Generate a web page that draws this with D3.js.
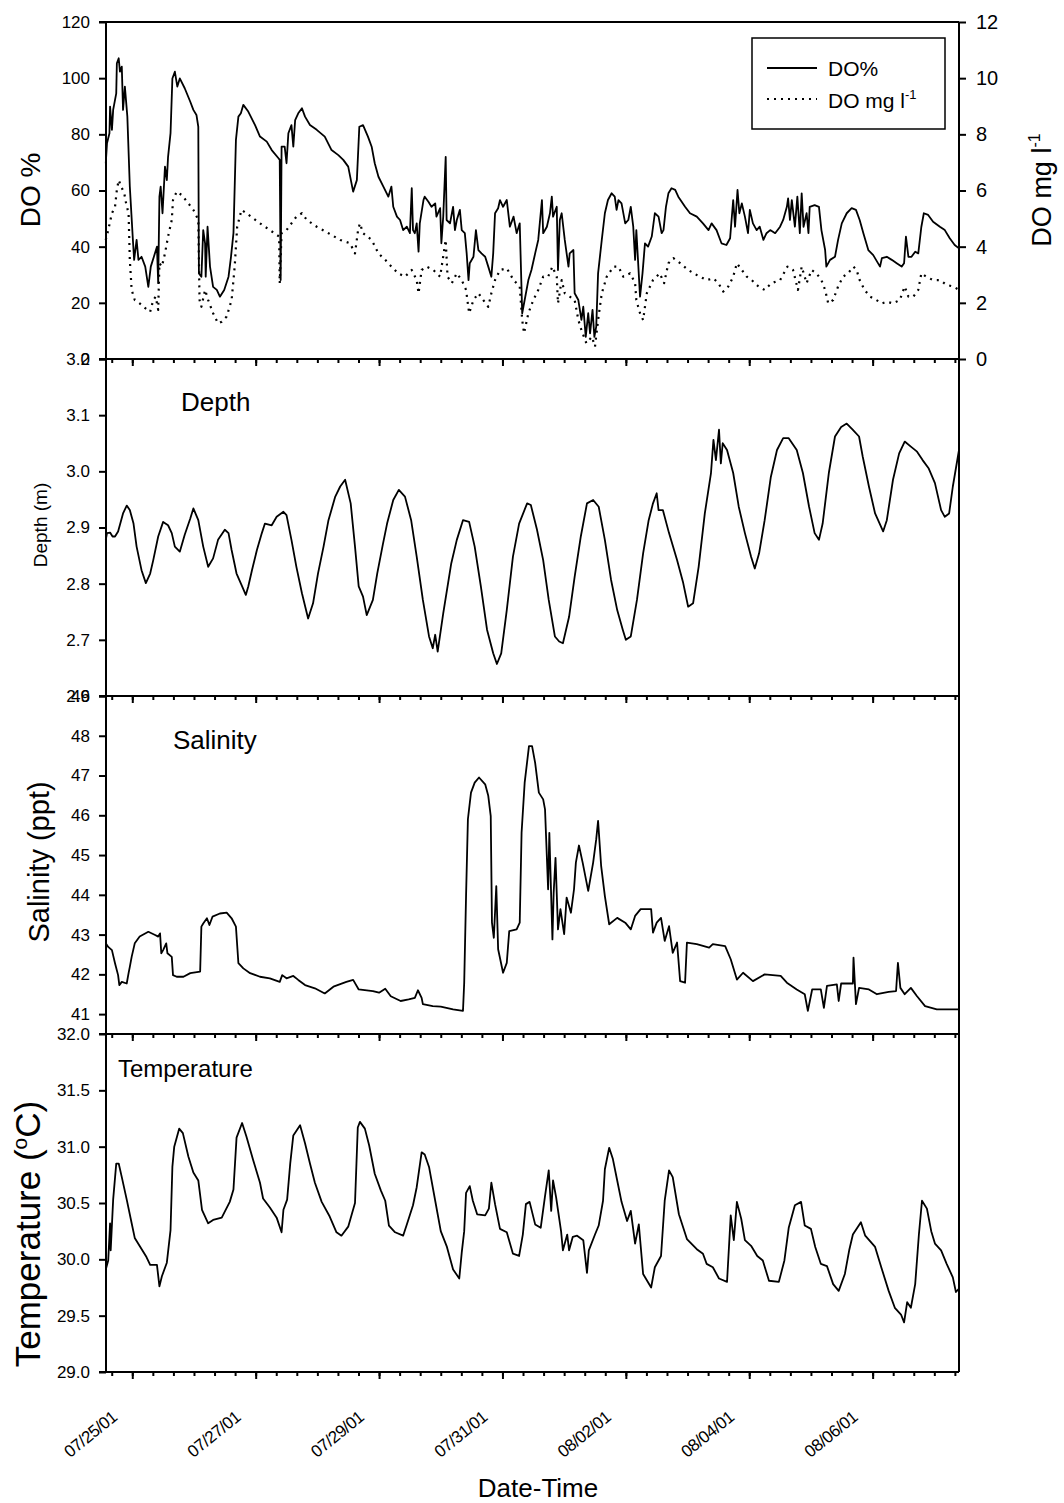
<!DOCTYPE html>
<html>
<head>
<meta charset="utf-8">
<script src="https://cdn.jsdelivr.net/npm/d3@7"></script>
<style>
	body { margin: 0; background: #fff; }
	svg { font-family: Arial, "Liberation Sans", sans-serif; }
</style>
</head>
<body>
<div id="chart"></div>
<script>
// time is in days after 07/25/01 00:00
var doPct = [[-0.43,69.7],[-0.41,76.8],[-0.37,80.4],[-0.36,89.9],[-0.33,81.6],[-0.31,88.7],[-0.26,94.6],[-0.25,105.3],[-0.22,107.1],[-0.20,102.3],[-0.17,104.1],[-0.15,88.7],[-0.12,97.0],[-0.08,86.3],[-0.04,61.4],[0.01,42.4],[0.03,35.3],[0.07,42.4],[0.10,35.3],[0.15,36.4],[0.21,32.9],[0.26,25.7],[0.30,32.9],[0.35,36.4],[0.40,40.0],[0.42,27.0],[0.44,57.8],[0.46,61.4],[0.49,51.9],[0.53,68.5],[0.56,63.7],[0.58,72.0],[0.62,80.4],[0.65,99.9],[0.69,102.3],[0.73,97.0],[0.77,99.9],[0.85,96.4],[0.94,91.6],[0.99,88.7],[1.04,86.9],[1.07,82.7],[1.08,30.5],[1.12,29.3],[1.15,45.9],[1.18,41.2],[1.19,29.3],[1.22,47.1],[1.26,32.9],[1.31,25.7],[1.37,24.6],[1.42,22.2],[1.49,24.6],[1.56,29.3],[1.60,36.4],[1.64,44.8],[1.68,78.0],[1.72,86.3],[1.76,87.5],[1.80,90.5],[1.88,88.1],[1.99,83.3],[2.07,79.2],[2.18,77.4],[2.26,74.4],[2.37,71.5],[2.39,70.9],[2.405,28.1],[2.42,75.6],[2.47,75.6],[2.50,69.7],[2.53,80.4],[2.58,83.3],[2.61,75.6],[2.64,85.1],[2.69,87.5],[2.75,89.3],[2.80,86.3],[2.88,83.3],[2.99,81.6],[3.12,79.2],[3.23,74.4],[3.34,72.6],[3.42,70.9],[3.50,68.5],[3.58,59.6],[3.64,63.7],[3.68,82.7],[3.74,83.3],[3.82,79.2],[3.88,75.6],[3.93,69.7],[3.99,64.9],[4.07,61.4],[4.15,57.8],[4.20,61.4],[4.23,54.2],[4.29,50.7],[4.34,49.5],[4.39,45.9],[4.45,47.1],[4.50,44.8],[4.53,60.8],[4.55,45.9],[4.58,44.8],[4.61,48.3],[4.64,38.2],[4.66,48.3],[4.72,56.6],[4.74,57.8],[4.80,56.0],[4.85,54.2],[4.91,55.4],[4.93,50.7],[4.99,53.7],[5.01,41.2],[5.04,50.7],[5.08,72.0],[5.095,49.5],[5.15,48.3],[5.20,54.2],[5.23,45.9],[5.26,49.5],[5.31,53.1],[5.34,45.9],[5.39,44.8],[5.42,37.6],[5.45,28.1],[5.47,34.1],[5.53,36.4],[5.57,45.9],[5.61,38.8],[5.66,37.6],[5.72,36.4],[5.77,32.9],[5.82,29.3],[5.85,37.6],[5.88,51.9],[5.93,53.7],[5.96,56.6],[6.01,54.2],[6.07,56.6],[6.12,47.1],[6.18,50.7],[6.23,44.8],[6.28,48.3],[6.32,16.3],[6.36,21.0],[6.42,28.1],[6.47,31.7],[6.53,37.6],[6.58,42.4],[6.64,56.6],[6.66,44.8],[6.72,47.1],[6.77,51.9],[6.80,57.8],[6.82,50.7],[6.88,54.2],[6.90,31.7],[6.93,49.5],[6.96,51.9],[7.01,42.4],[7.07,32.9],[7.09,37.6],[7.15,38.8],[7.17,23.4],[7.23,21.0],[7.28,13.9],[7.31,18.6],[7.35,7.9],[7.39,16.3],[7.42,9.1],[7.46,17.5],[7.49,7.9],[7.52,11.5],[7.55,30.5],[7.61,42.4],[7.66,51.9],[7.71,56.6],[7.77,59.0],[7.82,57.8],[7.85,53.1],[7.88,56.6],[7.93,55.4],[7.99,48.3],[8.04,49.5],[8.08,54.2],[8.12,47.1],[8.15,35.3],[8.17,45.9],[8.23,22.2],[8.27,30.5],[8.31,41.2],[8.36,40.0],[8.42,43.6],[8.47,51.9],[8.53,50.7],[8.58,44.8],[8.61,45.9],[8.65,54.2],[8.69,59.0],[8.74,60.8],[8.80,60.2],[8.85,57.8],[8.96,54.2],[9.04,51.9],[9.15,50.7],[9.25,48.3],[9.34,45.9],[9.39,48.3],[9.47,45.9],[9.55,41.2],[9.63,40.6],[9.69,43.0],[9.74,56.6],[9.77,47.1],[9.81,60.2],[9.84,51.9],[9.88,55.4],[9.93,50.7],[9.98,44.8],[10.01,53.1],[10.06,48.3],[10.12,45.9],[10.17,47.1],[10.23,42.4],[10.28,44.8],[10.34,45.9],[10.42,44.8],[10.50,47.1],[10.55,49.5],[10.61,54.2],[10.63,57.2],[10.66,49.5],[10.69,56.6],[10.74,47.1],[10.78,57.8],[10.82,44.8],[10.85,59.0],[10.88,47.1],[10.93,51.9],[10.96,44.8],[10.98,54.2],[11.06,54.8],[11.13,54.2],[11.17,45.9],[11.23,38.8],[11.25,32.9],[11.31,35.3],[11.39,36.4],[11.44,42.4],[11.50,48.3],[11.58,51.9],[11.66,53.7],[11.73,53.1],[11.79,49.5],[11.85,44.8],[11.93,38.8],[12.01,37.0],[12.12,32.9],[12.15,35.9],[12.23,36.4],[12.31,35.3],[12.39,34.1],[12.47,32.9],[12.51,34.1],[12.54,43.6],[12.58,36.4],[12.63,36.4],[12.69,38.2],[12.74,37.6],[12.79,47.1],[12.83,51.9],[12.90,51.3],[12.98,48.9],[13.09,47.1],[13.17,45.9],[13.25,43.0],[13.33,40.6],[13.40,39.4]];

var doMg = [[-0.43,4.24],[-0.39,4.59],[-0.33,5.19],[-0.28,5.42],[-0.25,6.02],[-0.22,6.37],[-0.18,6.14],[-0.13,5.90],[-0.10,5.54],[-0.06,5.19],[-0.04,3.53],[-0.01,2.46],[0.04,2.10],[0.12,1.98],[0.21,1.81],[0.29,1.68],[0.34,2.10],[0.38,2.22],[0.42,1.75],[0.44,3.41],[0.48,3.29],[0.53,3.76],[0.58,4.36],[0.64,4.95],[0.66,5.66],[0.72,5.96],[0.80,5.84],[0.91,5.54],[0.99,5.31],[1.07,4.95],[1.09,2.10],[1.12,1.86],[1.18,2.46],[1.23,2.10],[1.31,1.63],[1.39,1.27],[1.45,1.33],[1.53,1.51],[1.61,2.10],[1.66,3.29],[1.70,4.71],[1.77,5.31],[1.85,5.19],[2.07,4.83],[2.23,4.59],[2.38,4.36],[2.39,2.70],[2.42,4.48],[2.50,4.59],[2.58,4.83],[2.66,5.07],[2.75,5.19],[2.83,4.95],[2.99,4.71],[3.18,4.48],[3.37,4.24],[3.53,4.12],[3.61,3.76],[3.66,4.59],[3.69,4.83],[3.74,4.48],[3.88,4.24],[3.99,3.76],[4.10,3.53],[4.20,3.29],[4.31,3.05],[4.42,2.93],[4.53,3.17],[4.61,2.81],[4.64,2.34],[4.69,3.17],[4.77,3.29],[4.88,3.17],[4.99,2.93],[5.08,4.24],[5.11,2.93],[5.18,2.70],[5.26,3.05],[5.34,2.81],[5.41,2.46],[5.46,1.63],[5.53,2.10],[5.61,2.34],[5.69,2.10],[5.77,1.86],[5.82,2.34],[5.88,2.81],[5.96,3.17],[6.07,3.23],[6.18,2.81],[6.28,2.58],[6.32,1.39],[6.35,0.92],[6.42,1.63],[6.50,2.10],[6.58,2.46],[6.66,2.93],[6.74,2.93],[6.81,3.29],[6.88,2.93],[6.90,1.98],[6.96,2.81],[7.01,2.34],[7.09,2.22],[7.17,2.10],[7.23,1.39],[7.28,1.03],[7.36,0.56],[7.45,0.79],[7.50,0.44],[7.55,1.39],[7.61,2.34],[7.69,2.93],[7.80,3.29],[7.88,3.29],[7.96,2.93],[8.07,3.05],[8.15,2.70],[8.17,2.10],[8.23,1.63],[8.28,1.39],[8.34,2.34],[8.44,2.81],[8.55,3.05],[8.62,2.70],[8.69,3.41],[8.77,3.59],[8.88,3.41],[9.01,3.17],[9.15,2.99],[9.31,2.81],[9.42,2.87],[9.50,2.70],[9.58,2.40],[9.66,2.58],[9.74,2.93],[9.80,3.41],[9.88,3.17],[9.96,2.93],[10.04,2.81],[10.15,2.58],[10.25,2.46],[10.36,2.70],[10.50,2.81],[10.62,3.29],[10.71,3.17],[10.79,2.46],[10.85,3.29],[10.93,2.70],[11.01,3.17],[11.09,3.05],[11.17,2.81],[11.23,2.46],[11.28,1.98],[11.36,2.10],[11.44,2.58],[11.52,2.93],[11.60,3.05],[11.69,3.29],[11.74,3.17],[11.79,2.81],[11.87,2.46],[11.96,2.22],[12.06,2.10],[12.15,1.98],[12.23,2.04],[12.33,1.98],[12.44,2.10],[12.52,2.58],[12.58,2.22],[12.66,2.22],[12.74,2.46],[12.79,3.05],[12.87,2.93],[12.98,2.81],[13.09,2.81],[13.20,2.64],[13.31,2.58],[13.40,2.46]];

var depth = [[-0.43,2.878],[-0.41,2.890],[-0.36,2.891],[-0.32,2.884],[-0.28,2.884],[-0.23,2.893],[-0.15,2.925],[-0.09,2.939],[-0.04,2.931],[0.02,2.907],[0.07,2.866],[0.15,2.824],[0.22,2.801],[0.29,2.818],[0.34,2.842],[0.42,2.884],[0.50,2.910],[0.58,2.904],[0.64,2.890],[0.69,2.866],[0.77,2.857],[0.85,2.887],[0.94,2.916],[0.99,2.934],[1.07,2.913],[1.15,2.866],[1.23,2.830],[1.31,2.845],[1.39,2.878],[1.50,2.896],[1.56,2.890],[1.61,2.860],[1.69,2.818],[1.77,2.798],[1.84,2.780],[1.88,2.795],[1.94,2.824],[2.02,2.860],[2.10,2.890],[2.15,2.907],[2.26,2.904],[2.34,2.919],[2.45,2.928],[2.50,2.922],[2.58,2.878],[2.66,2.830],[2.75,2.783],[2.85,2.738],[2.93,2.765],[3.01,2.818],[3.10,2.866],[3.18,2.913],[3.29,2.955],[3.37,2.973],[3.45,2.985],[3.54,2.943],[3.61,2.866],[3.67,2.795],[3.74,2.777],[3.80,2.744],[3.90,2.771],[3.97,2.818],[4.06,2.869],[4.13,2.907],[4.23,2.949],[4.32,2.967],[4.42,2.955],[4.52,2.913],[4.61,2.848],[4.71,2.771],[4.81,2.706],[4.87,2.685],[4.91,2.709],[4.95,2.679],[5.04,2.747],[5.17,2.836],[5.26,2.878],[5.36,2.913],[5.46,2.910],[5.55,2.866],[5.65,2.795],[5.75,2.718],[5.85,2.676],[5.91,2.657],[5.98,2.676],[6.07,2.753],[6.17,2.848],[6.27,2.907],[6.40,2.943],[6.46,2.940],[6.56,2.896],[6.66,2.842],[6.75,2.771],[6.85,2.706],[6.92,2.697],[6.98,2.694],[7.08,2.741],[7.17,2.812],[7.27,2.884],[7.37,2.943],[7.47,2.949],[7.56,2.937],[7.66,2.878],[7.76,2.807],[7.86,2.753],[7.95,2.718],[8.00,2.700],[8.08,2.706],[8.18,2.771],[8.28,2.854],[8.37,2.913],[8.44,2.943],[8.50,2.961],[8.53,2.931],[8.60,2.931],[8.70,2.890],[8.83,2.842],[8.93,2.801],[9.01,2.759],[9.09,2.765],[9.18,2.830],[9.28,2.925],[9.38,2.997],[9.42,3.056],[9.46,3.020],[9.51,3.074],[9.54,3.014],[9.57,3.050],[9.64,3.038],[9.74,2.997],[9.83,2.937],[9.93,2.890],[10.03,2.848],[10.09,2.827],[10.16,2.854],[10.25,2.913],[10.35,2.990],[10.45,3.038],[10.55,3.059],[10.64,3.059],[10.77,3.038],[10.87,2.997],[10.97,2.937],[11.06,2.890],[11.13,2.878],[11.19,2.907],[11.29,2.997],[11.39,3.062],[11.49,3.079],[11.58,3.085],[11.68,3.074],[11.78,3.062],[11.84,3.026],[11.94,2.973],[12.04,2.925],[12.17,2.893],[12.23,2.913],[12.33,2.985],[12.43,3.032],[12.52,3.053],[12.62,3.044],[12.72,3.035],[12.81,3.020],[12.91,3.005],[13.01,2.979],[13.11,2.931],[13.17,2.919],[13.24,2.925],[13.30,2.973],[13.40,3.038]];

var salinity = [[-0.43,42.78],[-0.39,42.69],[-0.33,42.61],[-0.28,42.28],[-0.23,41.98],[-0.21,41.73],[-0.17,41.81],[-0.09,41.77],[-0.06,42.03],[-0.04,42.19],[-0.01,42.44],[0.04,42.78],[0.12,42.95],[0.26,43.07],[0.37,42.99],[0.42,42.95],[0.45,43.03],[0.47,42.53],[0.50,42.61],[0.55,42.78],[0.57,42.53],[0.64,42.44],[0.66,41.98],[0.72,41.94],[0.83,41.94],[0.94,42.03],[1.10,42.07],[1.12,43.20],[1.15,43.28],[1.21,43.41],[1.25,43.24],[1.30,43.45],[1.42,43.53],[1.53,43.55],[1.61,43.41],[1.68,43.20],[1.72,42.28],[1.80,42.15],[1.91,42.03],[2.07,41.94],[2.23,41.90],[2.39,41.81],[2.43,41.98],[2.50,41.90],[2.61,41.96],[2.69,41.86],[2.80,41.73],[2.96,41.65],[3.12,41.52],[3.26,41.69],[3.47,41.81],[3.58,41.86],[3.67,41.62],[3.90,41.58],[4.00,41.54],[4.10,41.64],[4.19,41.45],[4.35,41.33],[4.48,41.37],[4.58,41.41],[4.63,41.60],[4.69,41.41],[4.71,41.25],[4.87,41.20],[5.00,41.19],[5.20,41.12],[5.36,41.08],[5.38,41.79],[5.41,43.97],[5.44,45.90],[5.49,46.57],[5.55,46.82],[5.62,46.95],[5.72,46.78],[5.77,46.49],[5.81,45.98],[5.83,43.30],[5.86,42.92],[5.90,44.22],[5.93,42.63],[6.01,42.04],[6.07,42.29],[6.11,43.09],[6.23,43.13],[6.28,43.30],[6.31,45.56],[6.36,46.82],[6.43,47.74],[6.48,47.74],[6.53,47.32],[6.59,46.57],[6.66,46.40],[6.69,46.15],[6.74,44.14],[6.76,45.56],[6.81,42.88],[6.83,44.05],[6.86,44.93],[6.90,43.13],[6.94,43.64],[7.00,43.01],[7.04,43.93],[7.11,43.55],[7.16,44.14],[7.19,44.81],[7.24,45.24],[7.30,44.81],[7.39,44.10],[7.47,44.81],[7.52,45.40],[7.55,45.86],[7.60,44.72],[7.66,43.97],[7.73,43.26],[7.86,43.42],[7.99,43.30],[8.08,43.13],[8.15,43.47],[8.24,43.64],[8.41,43.64],[8.44,43.05],[8.50,43.30],[8.57,43.42],[8.63,42.84],[8.70,43.21],[8.76,42.54],[8.83,42.80],[8.88,41.83],[8.96,41.79],[8.99,42.80],[9.15,42.76],[9.35,42.67],[9.41,42.76],[9.61,42.71],[9.70,42.38],[9.80,41.87],[9.90,42.04],[10.06,41.83],[10.25,42.00],[10.51,41.96],[10.61,41.79],[10.77,41.62],[10.90,41.50],[10.95,41.08],[11.02,41.62],[11.16,41.62],[11.21,41.16],[11.26,41.71],[11.42,41.75],[11.45,41.33],[11.49,41.77],[11.68,41.77],[11.69,42.42],[11.73,41.25],[11.78,41.66],[11.94,41.62],[12.07,41.50],[12.26,41.56],[12.38,41.58],[12.41,42.29],[12.45,41.66],[12.52,41.50],[12.62,41.66],[12.72,41.45],[12.85,41.20],[13.04,41.12],[13.27,41.12],[13.40,41.12]];

var temperature = [[-0.43,29.91],[-0.39,29.99],[-0.36,30.32],[-0.35,30.08],[-0.31,30.53],[-0.26,30.85],[-0.22,30.85],[-0.17,30.73],[-0.09,30.53],[-0.01,30.32],[0.04,30.19],[0.13,30.11],[0.23,30.02],[0.29,29.95],[0.40,29.95],[0.44,29.76],[0.48,29.85],[0.56,29.97],[0.62,30.26],[0.65,30.82],[0.68,31.00],[0.76,31.16],[0.82,31.12],[0.91,30.91],[0.99,30.77],[1.07,30.70],[1.13,30.44],[1.23,30.32],[1.31,30.35],[1.45,30.37],[1.58,30.51],[1.64,30.62],[1.69,31.08],[1.78,31.21],[1.85,31.09],[1.96,30.88],[2.07,30.68],[2.12,30.54],[2.23,30.46],[2.34,30.37],[2.42,30.24],[2.45,30.44],[2.51,30.53],[2.56,30.85],[2.61,31.10],[2.72,31.19],[2.80,31.03],[2.88,30.85],[2.96,30.68],[3.07,30.51],[3.20,30.38],[3.31,30.24],[3.39,30.21],[3.50,30.29],[3.61,30.50],[3.655,31.17],[3.69,31.22],[3.77,31.16],[3.84,31.01],[3.93,30.76],[4.03,30.61],[4.10,30.52],[4.16,30.30],[4.26,30.24],[4.39,30.21],[4.45,30.31],[4.55,30.48],[4.61,30.64],[4.69,30.95],[4.74,30.93],[4.81,30.82],[4.91,30.52],[5.00,30.25],[5.10,30.11],[5.20,29.91],[5.30,29.83],[5.34,30.06],[5.38,30.25],[5.41,30.59],[5.47,30.65],[5.52,30.52],[5.59,30.40],[5.72,30.39],[5.78,30.45],[5.82,30.68],[5.88,30.49],[5.96,30.27],[6.07,30.24],[6.17,30.05],[6.27,30.03],[6.33,30.22],[6.38,30.49],[6.44,30.51],[6.53,30.31],[6.62,30.28],[6.69,30.56],[6.75,30.79],[6.79,30.43],[6.82,30.70],[6.87,30.55],[6.95,30.25],[6.98,30.08],[7.05,30.22],[7.08,30.08],[7.14,30.20],[7.21,30.21],[7.31,30.17],[7.37,29.88],[7.40,30.08],[7.50,30.22],[7.56,30.30],[7.63,30.52],[7.66,30.80],[7.73,30.99],[7.79,30.89],[7.86,30.70],[7.93,30.51],[8.02,30.34],[8.08,30.43],[8.15,30.14],[8.21,30.31],[8.28,29.87],[8.41,29.75],[8.47,29.93],[8.57,30.03],[8.63,30.52],[8.70,30.79],[8.76,30.73],[8.86,30.40],[8.99,30.18],[9.15,30.09],[9.25,30.05],[9.31,29.96],[9.41,29.93],[9.51,29.83],[9.64,29.80],[9.70,30.39],[9.75,30.17],[9.80,30.51],[9.87,30.36],[9.93,30.17],[10.03,30.12],[10.13,30.03],[10.22,29.99],[10.32,29.81],[10.48,29.80],[10.57,29.99],[10.64,30.28],[10.74,30.48],[10.84,30.51],[10.90,30.30],[11.00,30.27],[11.07,30.11],[11.16,29.96],[11.26,29.94],[11.36,29.78],[11.45,29.72],[11.55,29.87],[11.62,30.08],[11.68,30.22],[11.81,30.33],[11.88,30.21],[12.04,30.11],[12.14,29.93],[12.26,29.72],[12.36,29.57],[12.46,29.51],[12.51,29.44],[12.56,29.62],[12.62,29.57],[12.69,29.78],[12.75,30.22],[12.80,30.52],[12.88,30.45],[12.95,30.25],[13.01,30.14],[13.11,30.08],[13.20,29.96],[13.30,29.84],[13.35,29.71],[13.40,29.74]];

var dateTicks = [0, 2, 4, 6, 8, 10, 12];
var doPctTicks = [0, 20, 40, 60, 80, 100, 120];
var doMgTicks = [0, 2, 4, 6, 8, 10, 12];
var depthTicks = [2.6, 2.7, 2.8, 2.9, 3.0, 3.1, 3.2];
var salinityTicks = [41, 42, 43, 44, 45, 46, 47, 48, 49];
var tempTicks = [29.0, 29.5, 30.0, 30.5, 31.0, 31.5, 32.0];

var width = 1064,
	height = 1503;
var left = 106,
	right = 959;
var font = "Arial, 'Liberation Sans', sans-serif";

var t0 = new Date(2001, 6, 25);
function day(d) {
	return new Date(t0.getTime() + d * 864e5);
}

var x = d3.scaleTime()
	.domain([day(-0.426), day(13.40)])
	.range([left, right]);

var panels = [
	{top: 22, bottom: 359, domain: [0, 120], ticks: doPctTicks, fmt: d3.format("d")},
	{top: 359, bottom: 696, domain: [2.6, 3.2], ticks: depthTicks, fmt: d3.format(".1f")},
	{top: 696, bottom: 1034, domain: [40.5, 49], ticks: salinityTicks, fmt: d3.format("d")},
	{top: 1034, bottom: 1372, domain: [29, 32], ticks: tempTicks, fmt: d3.format(".1f")}
];
panels.forEach(p => {
	p.y = d3.scaleLinear().domain(p.domain).range([p.bottom, p.top]);
});

var yMg = d3.scaleLinear().domain([0, 12]).range([panels[0].bottom, panels[0].top]);

var svg = d3.select("#chart").append("svg")
	.attr("width", width)
	.attr("height", height);

var majorTicks = dateTicks.map(day);
var minorTicks = d3.timeHour.every(8).range(x.domain()[0], x.domain()[1]);

panels.forEach(p => {
	// left axis
	svg.append("g")
		.attr("transform", `translate(${left},0)`)
		.call(d3.axisLeft(p.y).tickValues(p.ticks).tickFormat(p.fmt).tickSize(7).tickPadding(9))
		.call(g => g.select(".domain").remove())
		.call(g => g.selectAll("line").attr("stroke-width", 2))
		.call(g => g.selectAll("text").attr("font-size", 17).attr("font-family", font).attr("fill", "#000"));

	// time ticks along the bottom of every panel
	svg.append("g")
		.attr("transform", `translate(0,${p.bottom})`)
		.call(d3.axisBottom(x).tickValues(minorTicks).tickFormat("").tickSize(4))
		.call(g => g.select(".domain").remove())
		.call(g => g.selectAll("line").attr("stroke-width", 2));
	svg.append("g")
		.attr("transform", `translate(0,${p.bottom})`)
		.call(d3.axisBottom(x).tickValues(majorTicks).tickFormat("").tickSize(7))
		.call(g => g.select(".domain").remove())
		.call(g => g.selectAll("line").attr("stroke-width", 2));

	svg.append("line")
		.attr("x1", left - 7).attr("x2", right)
		.attr("y1", p.bottom).attr("y2", p.bottom)
		.attr("stroke", "#000").attr("stroke-width", 2);
});

// right axis for DO mg/l
svg.append("g")
	.attr("transform", `translate(${right},0)`)
	.call(d3.axisRight(yMg).tickValues(doMgTicks).tickSize(7).tickPadding(10))
	.call(g => g.select(".domain").remove())
	.call(g => g.selectAll("line").attr("stroke-width", 2))
	.call(g => g.selectAll("text").attr("font-size", 20).attr("font-family", font).attr("fill", "#000"));

// frame
svg.append("line").attr("x1", left - 7).attr("x2", right).attr("y1", 22).attr("y2", 22)
	.attr("stroke", "#000").attr("stroke-width", 2);
svg.append("line").attr("x1", left).attr("x2", left).attr("y1", 22).attr("y2", 1372)
	.attr("stroke", "#000").attr("stroke-width", 2);
svg.append("line").attr("x1", right).attr("x2", right).attr("y1", 22).attr("y2", 1372)
	.attr("stroke", "#000").attr("stroke-width", 2);

// series
function drawLine(data, y, dash) {
	svg.append("path")
		.datum(data)
		.attr("fill", "none")
		.attr("stroke", "#000")
		.attr("stroke-width", dash ? 2.2 : 1.8)
		.attr("stroke-dasharray", dash || null)
		.attr("stroke-linejoin", "round")
		.attr("d", d3.line().x(d => x(day(d[0]))).y(d => y(d[1])));
}
drawLine(doMg, yMg, "2,5");
drawLine(doPct, panels[0].y);
drawLine(depth, panels[1].y);
drawLine(salinity, panels[2].y);
drawLine(temperature, panels[3].y);

// date labels
svg.append("g")
	.selectAll("text")
	.data(majorTicks)
	.join("text")
	.attr("transform", d => `translate(${x(d) - 14},1419) rotate(-39)`)
	.attr("text-anchor", "end")
	.attr("font-size", 17)
	.attr("letter-spacing", -0.5)
	.text(d3.timeFormat("%m/%d/%y"));

svg.append("text")
	.attr("x", 538)
	.attr("y", 1497)
	.attr("text-anchor", "middle")
	.attr("font-size", 26)
	.text("Date-Time");

// y titles
function yTitle(xc, yc, size) {
	return svg.append("text")
		.attr("transform", `translate(${xc},${yc}) rotate(-90)`)
		.attr("text-anchor", "middle")
		.attr("dy", "0.36em")
		.attr("font-size", size);
}
yTitle(30, 190, 28).text("DO %");
var mgTitle = yTitle(1041, 190, 27);
mgTitle.append("tspan").text("DO mg l");
mgTitle.append("tspan").attr("font-size", 16).attr("dy", -11).text("-1");
yTitle(40, 525, 19).text("Depth (m)");
yTitle(39, 862, 29).text("Salinity (ppt)");
var tTitle = yTitle(27, 1234, 35);
tTitle.append("tspan").text("Temperature (");
tTitle.append("tspan").attr("font-size", 21).attr("dy", -13).text("o");
tTitle.append("tspan").attr("dy", 13).text("C)");

// panel labels
svg.append("text").attr("x", 181).attr("y", 411).attr("font-size", 26).text("Depth");
svg.append("text").attr("x", 173).attr("y", 749).attr("font-size", 26).text("Salinity");
svg.append("text").attr("x", 118).attr("y", 1077).attr("font-size", 24).text("Temperature");

// legend
var legend = svg.append("g");
legend.append("rect")
	.attr("x", 752).attr("y", 38)
	.attr("width", 193).attr("height", 91)
	.attr("fill", "#fff").attr("stroke", "#000").attr("stroke-width", 1.5);
legend.append("line")
	.attr("x1", 767).attr("x2", 817).attr("y1", 68).attr("y2", 68)
	.attr("stroke", "#000").attr("stroke-width", 1.8);
legend.append("line")
	.attr("x1", 767).attr("x2", 817).attr("y1", 99).attr("y2", 99)
	.attr("stroke", "#000").attr("stroke-width", 2.2).attr("stroke-dasharray", "2,5");
legend.append("text").attr("x", 828).attr("y", 76).attr("font-size", 21).text("DO%");
var lt = legend.append("text").attr("x", 828).attr("y", 108).attr("font-size", 21);
lt.append("tspan").text("DO mg l");
lt.append("tspan").attr("font-size", 13).attr("dy", -9).text("-1");
</script>
</body>
</html>
